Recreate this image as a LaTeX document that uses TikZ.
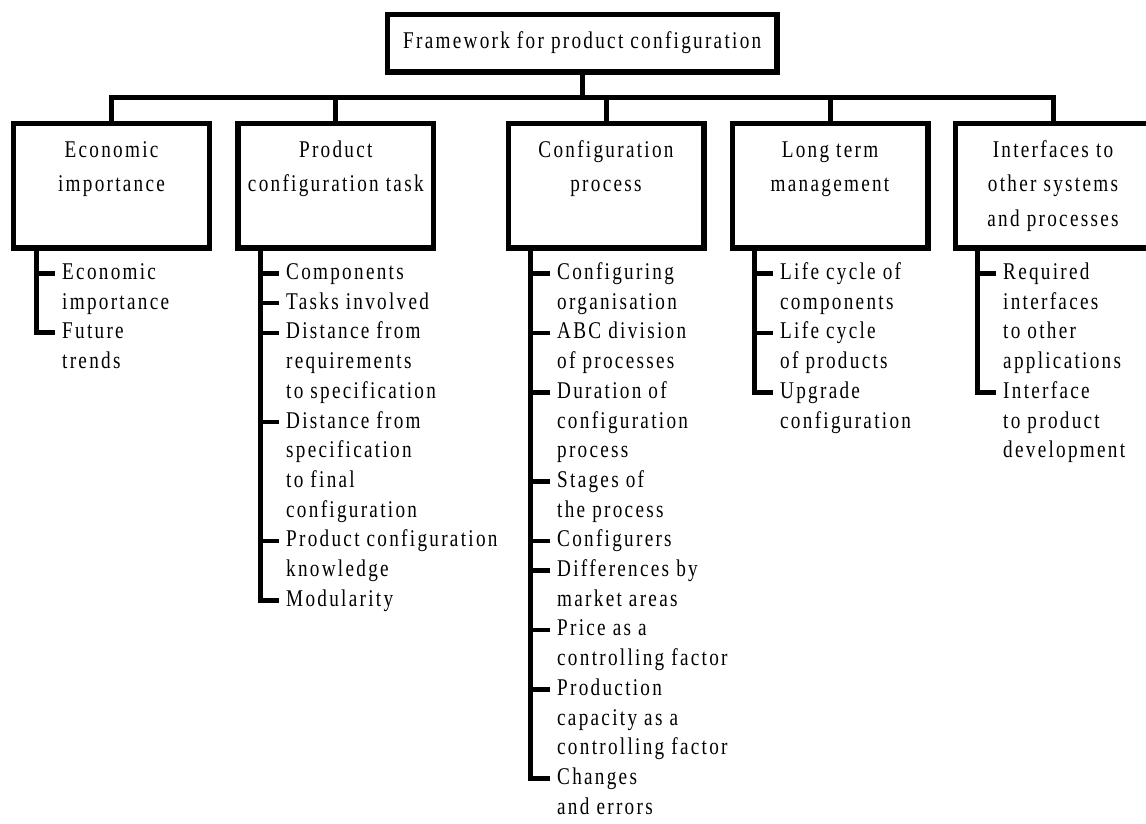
\documentclass[tikz,border=0pt]{standalone}
\usepackage{fontspec}
\setmainfont{Liberation Serif}[FakeStretch=0.8,LetterSpace=9.5]
\newcommand\ctrlines[1]{\vtop{\baselineskip=34.5pt\halign{\hfil##\hfil\cr#1\crcr}}}
\newcommand\lftlines[1]{\vtop{\baselineskip=29.7pt\halign{##\hfil\cr#1\crcr}}}
\tikzset{
  every node/.style={font=\fontsize{24pt}{29.7pt}\selectfont},
  topbox/.style={draw, line width=5.4pt, inner sep=0pt, minimum width=389.7pt, minimum height=57.7pt},
  catbox/.style={draw, line width=5.4pt, inner sep=0pt, minimum width=195.6pt, text height=34pt, text depth=90.8pt, anchor=north},
  item/.style={inner sep=0pt, anchor=base west},
  link/.style={line width=5pt},
  tick/.style={line width=4.5pt},
}
\begin{document}
\begin{tikzpicture}[x=1pt,y=-1pt]
\useasboundingbox (0,0) rectangle (1146,823);
\clip (0,0) rectangle (1146,823);
% top
\node[topbox] (top) at (582.2,43.1) {Framework for product configuration};
\coordinate (bar) at (582.2,97.6);
% category boxes
\node[catbox] (econ) at (111.5,120.5) {\ctrlines{Economic\cr importance}};
\node[catbox] (prod) at (335.8,120.5) {\ctrlines{Product\cr configuration task}};
\node[catbox] (conf) at (606,120.5) {\ctrlines{Configuration\cr process}};
\node[catbox] (long) at (830,120.5) {\ctrlines{Long term\cr management}};
\node[catbox] (intf) at (1053,120.5) {\ctrlines{Interfaces to\cr other systems\cr and processes}};
% tree links
\draw[link] (top.south) -- (top.south |- bar);
\draw[link] (econ.north) -- (econ.north |- bar) -- (intf.north |- bar) -- (intf.north);
\draw[link] (prod.north) -- (prod.north |- bar);
\draw[link] (conf.north) -- (conf.north |- bar);
\draw[link] (long.north) -- (long.north |- bar);
% spine coordinates
\coordinate (econL) at ([xshift=25pt]econ.south west);
\coordinate (prodL) at ([xshift=25pt]prod.south west);
\coordinate (confL) at ([xshift=25pt]conf.south west);
\coordinate (longL) at ([xshift=25pt]long.south west);
\coordinate (intfL) at ([xshift=25pt]intf.south west);
% items: Economic
\node[item] (e1) at (62,{279.5+29.7*0}) {\lftlines{Economic\cr importance}};
\node[item] (e2) at (62,{279.5+29.7*2}) {\lftlines{Future\cr trends}};
% items: Product
\node[item] (p1) at (286,{279.5+29.7*0}) {\lftlines{Components}};
\node[item] (p2) at (286,{279.5+29.7*1}) {\lftlines{Tasks involved}};
\node[item] (p3) at (286,{279.5+29.7*2}) {\lftlines{Distance from\cr requirements\cr to specification}};
\node[item] (p4) at (286,{279.5+29.7*5}) {\lftlines{Distance from\cr specification\cr to final\cr configuration}};
\node[item] (p5) at (286,{279.5+29.7*9}) {\lftlines{Product configuration\cr knowledge}};
\node[item] (p6) at (286,{279.5+29.7*11}) {\lftlines{Modularity}};
% items: Configuration process
\node[item] (c1) at (557,{279.5+29.7*0}) {\lftlines{Configuring\cr organisation}};
\node[item] (c2) at (557,{279.5+29.7*2}) {\lftlines{ABC division\cr of processes}};
\node[item] (c3) at (557,{279.5+29.7*4}) {\lftlines{Duration of\cr configuration\cr process}};
\node[item] (c4) at (557,{279.5+29.7*7}) {\lftlines{Stages of\cr the process}};
\node[item] (c5) at (557,{279.5+29.7*9}) {\lftlines{Configurers}};
\node[item] (c6) at (557,{279.5+29.7*10}) {\lftlines{Differences by\cr market areas}};
\node[item] (c7) at (557,{279.5+29.7*12}) {\lftlines{Price as a\cr controlling factor}};
\node[item] (c8) at (557,{279.5+29.7*14}) {\lftlines{Production\cr capacity as a\cr controlling factor}};
\node[item] (c9) at (557,{279.5+29.7*17}) {\lftlines{Changes\cr and errors}};
% items: Long term
\node[item] (l1) at (780,{279.5+29.7*0}) {\lftlines{Life cycle of\cr components}};
\node[item] (l2) at (780,{279.5+29.7*2}) {\lftlines{Life cycle\cr of products}};
\node[item] (l3) at (780,{279.5+29.7*4}) {\lftlines{Upgrade\cr configuration}};
% items: Interfaces
\node[item] (i1) at (1003,{279.5+29.7*0}) {\lftlines{Required\cr interfaces\cr to other\cr applications}};
\node[item] (i2) at (1003,{279.5+29.7*4}) {\lftlines{Interface\cr to product\cr development}};
% tick end coordinates
\foreach \n in {e1,e2,p1,p2,p3,p4,p5,p6,c1,c2,c3,c4,c5,c6,c7,c8,c9,l1,l2,l3,i1,i2}
  \coordinate (\n t) at ([xshift=-7pt,yshift=6pt]\n.base west);
% spines with last item
\draw[link] (econL) |- (e2t);
\draw[link] (prodL) |- (p6t);
\draw[link] (confL) |- (c9t);
\draw[link] (longL) |- (l3t);
\draw[link] (intfL) |- (i2t);
% other ticks
\foreach \n in {e1} \draw[tick] (econL |- \n t) -- (\n t);
\foreach \n in {p1,p2,p3,p4,p5} \draw[tick] (prodL |- \n t) -- (\n t);
\foreach \n in {c1,c2,c3,c4,c5,c6,c7,c8} \draw[tick] (confL |- \n t) -- (\n t);
\foreach \n in {l1,l2} \draw[tick] (longL |- \n t) -- (\n t);
\foreach \n in {i1} \draw[tick] (intfL |- \n t) -- (\n t);
\end{tikzpicture}
\end{document}
